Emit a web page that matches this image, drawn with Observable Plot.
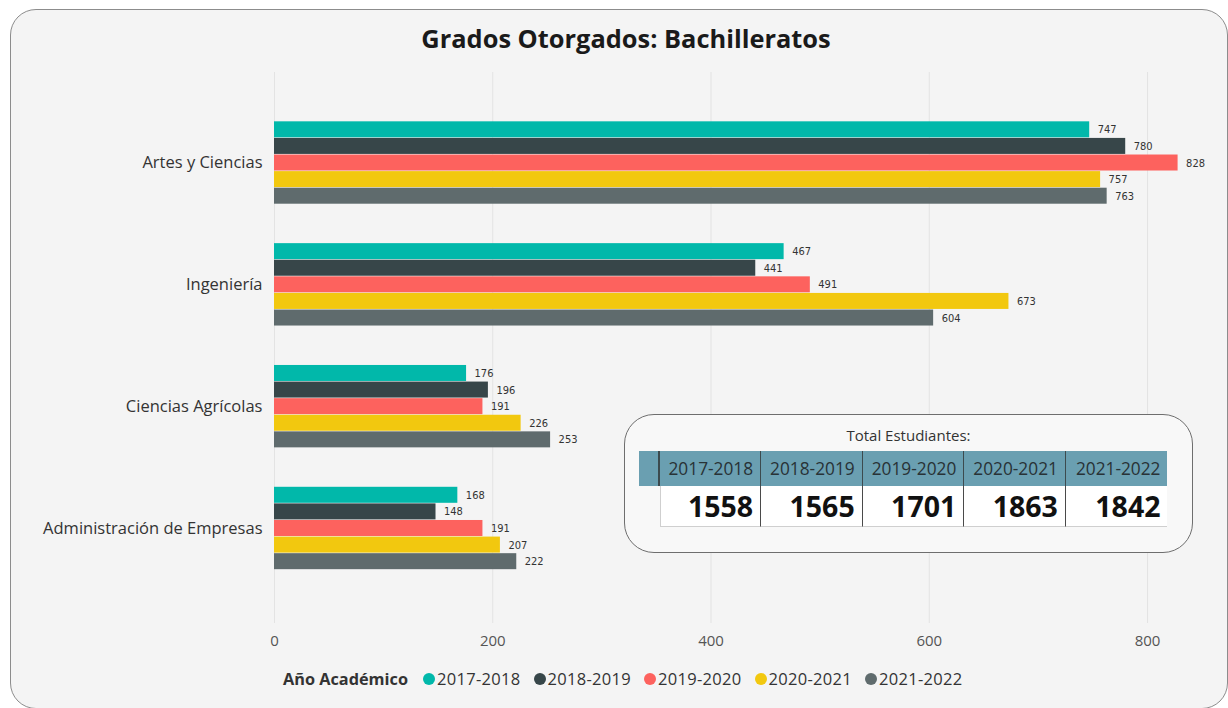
<!DOCTYPE html>
<html>
<head>
<meta charset="utf-8">
<script src="https://cdn.jsdelivr.net/npm/d3@7"></script>
<script src="https://cdn.jsdelivr.net/npm/@observablehq/plot@0.6"></script>
<style>
  html, body { margin:0; padding:0; }
  body { width:1228px; height:708px; overflow:hidden; position:relative; background:#fff;
         font-family:"Segoe UI","Open Sans","Noto Sans",sans-serif; color:#333; }
  #card { position:absolute; left:10px; top:9px; width:1218px; height:700px; box-sizing:border-box;
          border:1.5px solid #8c8c8c; border-radius:26px; background:#f4f4f4; }
  .layer { position:absolute; left:0; top:0; }
  #title { position:absolute; left:0; top:21px; width:1252px; text-align:center; font-weight:700;
           font-size:25.4px; color:#1a1a1a; }
  #legend { position:absolute; left:283px; top:667px; display:flex; align-items:center; color:#333; white-space:nowrap; }
  #legend .ttl { font-weight:700; font-size:16.3px; width:140px; }
  #legend .item { display:flex; align-items:center; width:110.5px; font-size:16.5px; letter-spacing:0.3px; }
  #legend .dot { width:12px; height:12px; border-radius:50%; margin-right:2px; flex:none; }
  #tbox { position:absolute; left:624px; top:414px; width:569px; height:139px; box-sizing:border-box;
          border:1.5px solid #6e6e6e; border-radius:30px; background:#f8f8f8; }
  #tbox .cap { position:absolute; left:0; top:10px; width:100%; text-align:center; font-size:15px; color:#333; }
  .cell { position:absolute; box-sizing:border-box; text-align:right; white-space:nowrap; }
</style>
</head>
<body>
<div id="card"></div>
<div id="bg" class="layer"></div>
<div id="fg" class="layer"></div>
<div id="title">Grados Otorgados: Bachilleratos</div>
<div id="legend"></div>
<div id="tbox"><div class="cap">Total Estudiantes:</div></div>
<script>
// ---- data ----
const categories = ["Artes y Ciencias", "Ingeniería", "Ciencias Agrícolas", "Administración de Empresas"];
const years = ["2017-2018", "2018-2019", "2019-2020", "2020-2021", "2021-2022"];
const artesYCiencias = [747, 780, 828, 757, 763];
const ingenieria = [467, 441, 491, 673, 604];
const cienciasAgricolas = [176, 196, 191, 226, 253];
const administracion = [168, 148, 191, 207, 222];
const totals = [1558, 1565, 1701, 1863, 1842];
const xTicks = [0, 200, 400, 600, 800];
const colors = ["#01B8AA", "#374649", "#FD625E", "#F2C80F", "#5F6B6D"];
const legendTitle = "Año Académico";

const series = [artesYCiencias, ingenieria, cienciasAgricolas, administracion];
const data = categories.flatMap((c, i) => years.map((y, j) => ({cat: c, year: y, value: series[i][j]})));

const W = 1228, H = 708;
const xOpts = {domain: [0, 850]};
const mL = 274, mR = 26.4;

// background: gridlines + x axis
const bg = Plot.plot({
  width: W, height: H, marginLeft: mL, marginRight: mR, marginTop: 72, marginBottom: 85,
  style: {background: "transparent", fontSize: "15px", color: "#555", fontFamily: "'Segoe UI','Open Sans',sans-serif"},
  x: {...xOpts, ticks: xTicks, tickSize: 0, tickPadding: 12, tickFormat: d => String(d), label: null},
  marks: [Plot.ruleX(xTicks, {stroke: "#e3e3e3", strokeWidth: 1})]
});
document.getElementById("bg").appendChild(bg);

// foreground: grouped bars via facets
const fg = Plot.plot({
  width: W, height: H, marginLeft: mL, marginRight: mR, marginTop: 101.6, marginBottom: 119.1,
  style: {background: "transparent", fontSize: "16.5px", color: "#333", fontFamily: "'Segoe UI','Open Sans',sans-serif", overflow: "visible"},
  facet: {data: data, y: "cat"},
  fy: {domain: categories, paddingInner: 0, paddingOuter: 0, round: false, label: null, axis: "left", tickSize: 0, tickPadding: 12},
  x: {...xOpts, axis: null},
  y: {domain: years, axis: null, paddingInner: 0, paddingOuter: 1.17, round: false},
  color: {domain: years, range: colors},
  marks: [
    Plot.barX(data, {y: "year", x: "value", fill: "year", insetTop: 0.3, insetBottom: 0.3}),
    Plot.text(data, {y: "year", x: "value", text: d => String(d.value), textAnchor: "start", dx: 8,
                     fontSize: 11, fill: "#333", fontFamily: "'DejaVu Sans Condensed','DejaVu Sans',sans-serif"})
  ]
});
document.getElementById("fg").appendChild(fg);

// legend
const leg = document.getElementById("legend");
const t = document.createElement("span"); t.className = "ttl"; t.textContent = legendTitle; leg.appendChild(t);
years.forEach((y, i) => {
  const it = document.createElement("span"); it.className = "item";
  const d = document.createElement("span"); d.className = "dot"; d.style.background = colors[i];
  const l = document.createElement("span"); l.textContent = y;
  it.appendChild(d); it.appendChild(l); leg.appendChild(it);
});

// totals table
const tbox = document.getElementById("tbox");
const ox = 624 + 1.5, oy = 414 + 1.5;
const hdrTop = 451 - oy, hdrH = 35, rowTop = 486 - oy, rowH = 41;
const stubL = 639 - ox, colL = 660 - ox, colW = 101.6;
function cell(l, tp, w, h, css, txt) {
  const c = document.createElement("div"); c.className = "cell";
  c.style.left = l + "px"; c.style.top = tp + "px"; c.style.width = w + "px"; c.style.height = h + "px";
  Object.assign(c.style, css); if (txt != null) c.textContent = txt; tbox.appendChild(c); return c;
}
cell(stubL, hdrTop, colL - stubL, hdrH, {background: "#6a9fb1", borderRight: "2px solid #3c4a4e"});
years.forEach((y, i) => {
  cell(colL + i * colW, hdrTop, colW, hdrH, {background: "#6a9fb1", color: "#283236", fontSize: "17.3px",
       lineHeight: hdrH + "px", paddingRight: "7px", borderRight: i < 4 ? "1.5px solid #3c4a4e" : "none"}, y);
  cell(colL + i * colW, rowTop, colW, rowH, {background: "#fff", color: "#111", fontSize: "28.5px", fontWeight: "700",
       lineHeight: rowH + "px", paddingRight: "7px", borderRight: i < 4 ? "1.5px solid #4a4a4a" : "none",
       borderBottom: "1.5px solid #cfcfcf", borderLeft: i === 0 ? "1px solid #cfcfcf" : "none"}, String(totals[i]));
});
</script>
</body>
</html>
